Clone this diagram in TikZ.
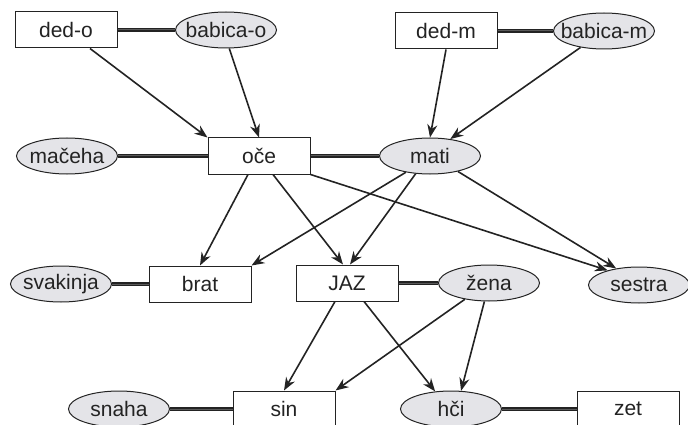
\documentclass[tikz,border=0pt]{standalone}
\usepackage{fontspec}
\setmainfont{Liberation Sans}
\usetikzlibrary{shapes,arrows.meta}
\definecolor{fgray}{RGB}{228,228,232}
\definecolor{ink}{RGB}{35,35,35}
\newcommand{\ime}[1]{\makebox[0pt]{#1}}
\tikzset{
	man/.style={rectangle,draw=ink,fill=white,line width=1pt,minimum width=102pt,minimum height=36pt,font=\fontsize{21}{24}\selectfont,text=ink},
	woman/.style={ellipse,draw=ink,fill=fgray,line width=1pt,minimum width=101pt,minimum height=36pt,inner sep=0pt,font=\fontsize{21}{24}\selectfont,text=ink},
	marriage/.style={draw=ink,line width=1.6pt,double={rgb,255:red,90;green,90;blue,90},double distance=1pt},
	diredge/.style={->,>={Stealth[width=10pt,length=13pt]},color=ink,line width=1.6pt}
}

\begin{document}
\begin{tikzpicture}[x=1pt,y=-1pt]
	\useasboundingbox (0,0) rectangle (688,425);
	%%%grandparents
	\node[man] (dedo) at (66,30) {ded-o};
	\node[woman] (babo) at (226,30) {\ime{babica-o}};
	\node[man] (dedm) at (446,31) {ded-m};
	\node[woman] (babm) at (604,31) {\ime{babica-m}};
	%%%parents
	\node[woman] (maceha) at (67,156) {\ime{mačeha}};
	\node[man] (oce) at (259,156) {oče};
	\node[woman] (mati) at (430,156) {\ime{mati}};
	%%%children
	\node[woman] (svakinja) at (61,284) {\ime{svakinja}};
	\node[man] (brat) at (200,284) {brat};
	\node[man] (jaz) at (347,283) {JAZ};
	\node[woman] (zena) at (489,283) {\ime{žena}};
	\node[woman] (sestra) at (639,285) {\ime{sestra}};
	%%%grandchildren
	\node[woman] (snaha) at (119,409) {\ime{snaha}};
	\node[man] (sin) at (284,409) {sin};
	\node[woman] (hci) at (451,409) {\ime{hči}};
	\node[man] (zet) at (628,409) {zet};
	
	\draw[marriage] (dedo) -- (babo);
	\draw[marriage] (dedm) -- (babm);
	\draw[marriage] (maceha) -- (oce) -- (mati);
	\draw[marriage] (svakinja) -- (brat);
	\draw[marriage] (jaz) -- (zena);
	\draw[marriage] (snaha) -- (sin);
	\draw[marriage] (hci) -- (zet);
	
	\draw[diredge] ([xshift=24pt]dedo.south) -- (oce.north west);
	\draw[diredge] (babo.-80) -- (oce.north);
	\draw[diredge] (dedm.south) -- (mati.north);
	\draw[diredge] (babm.215) -- (mati.40);
	\draw[diredge] ([xshift=-11pt]oce.south) -- (brat.north);
	\draw[diredge] ([xshift=14pt]oce.south) -- ([xshift=-4pt]jaz.north);
	\draw[diredge] (oce.south east) -- (sestra.155);
	\draw[diredge] (mati.214) -- (brat.north east);
	\draw[diredge] (mati.231) -- ([xshift=3pt]jaz.north);
	\draw[diredge] (mati.-29) -- (sestra.144);
	\draw[diredge] ([xshift=-12pt]jaz.south) -- (sin.north);
	\draw[diredge] ([xshift=17pt]jaz.south) -- (hci.132);
	\draw[diredge] (zena.214) -- (sin.north east);
	\draw[diredge] (zena.256) -- (hci.61);
\end{tikzpicture}
\end{document}
